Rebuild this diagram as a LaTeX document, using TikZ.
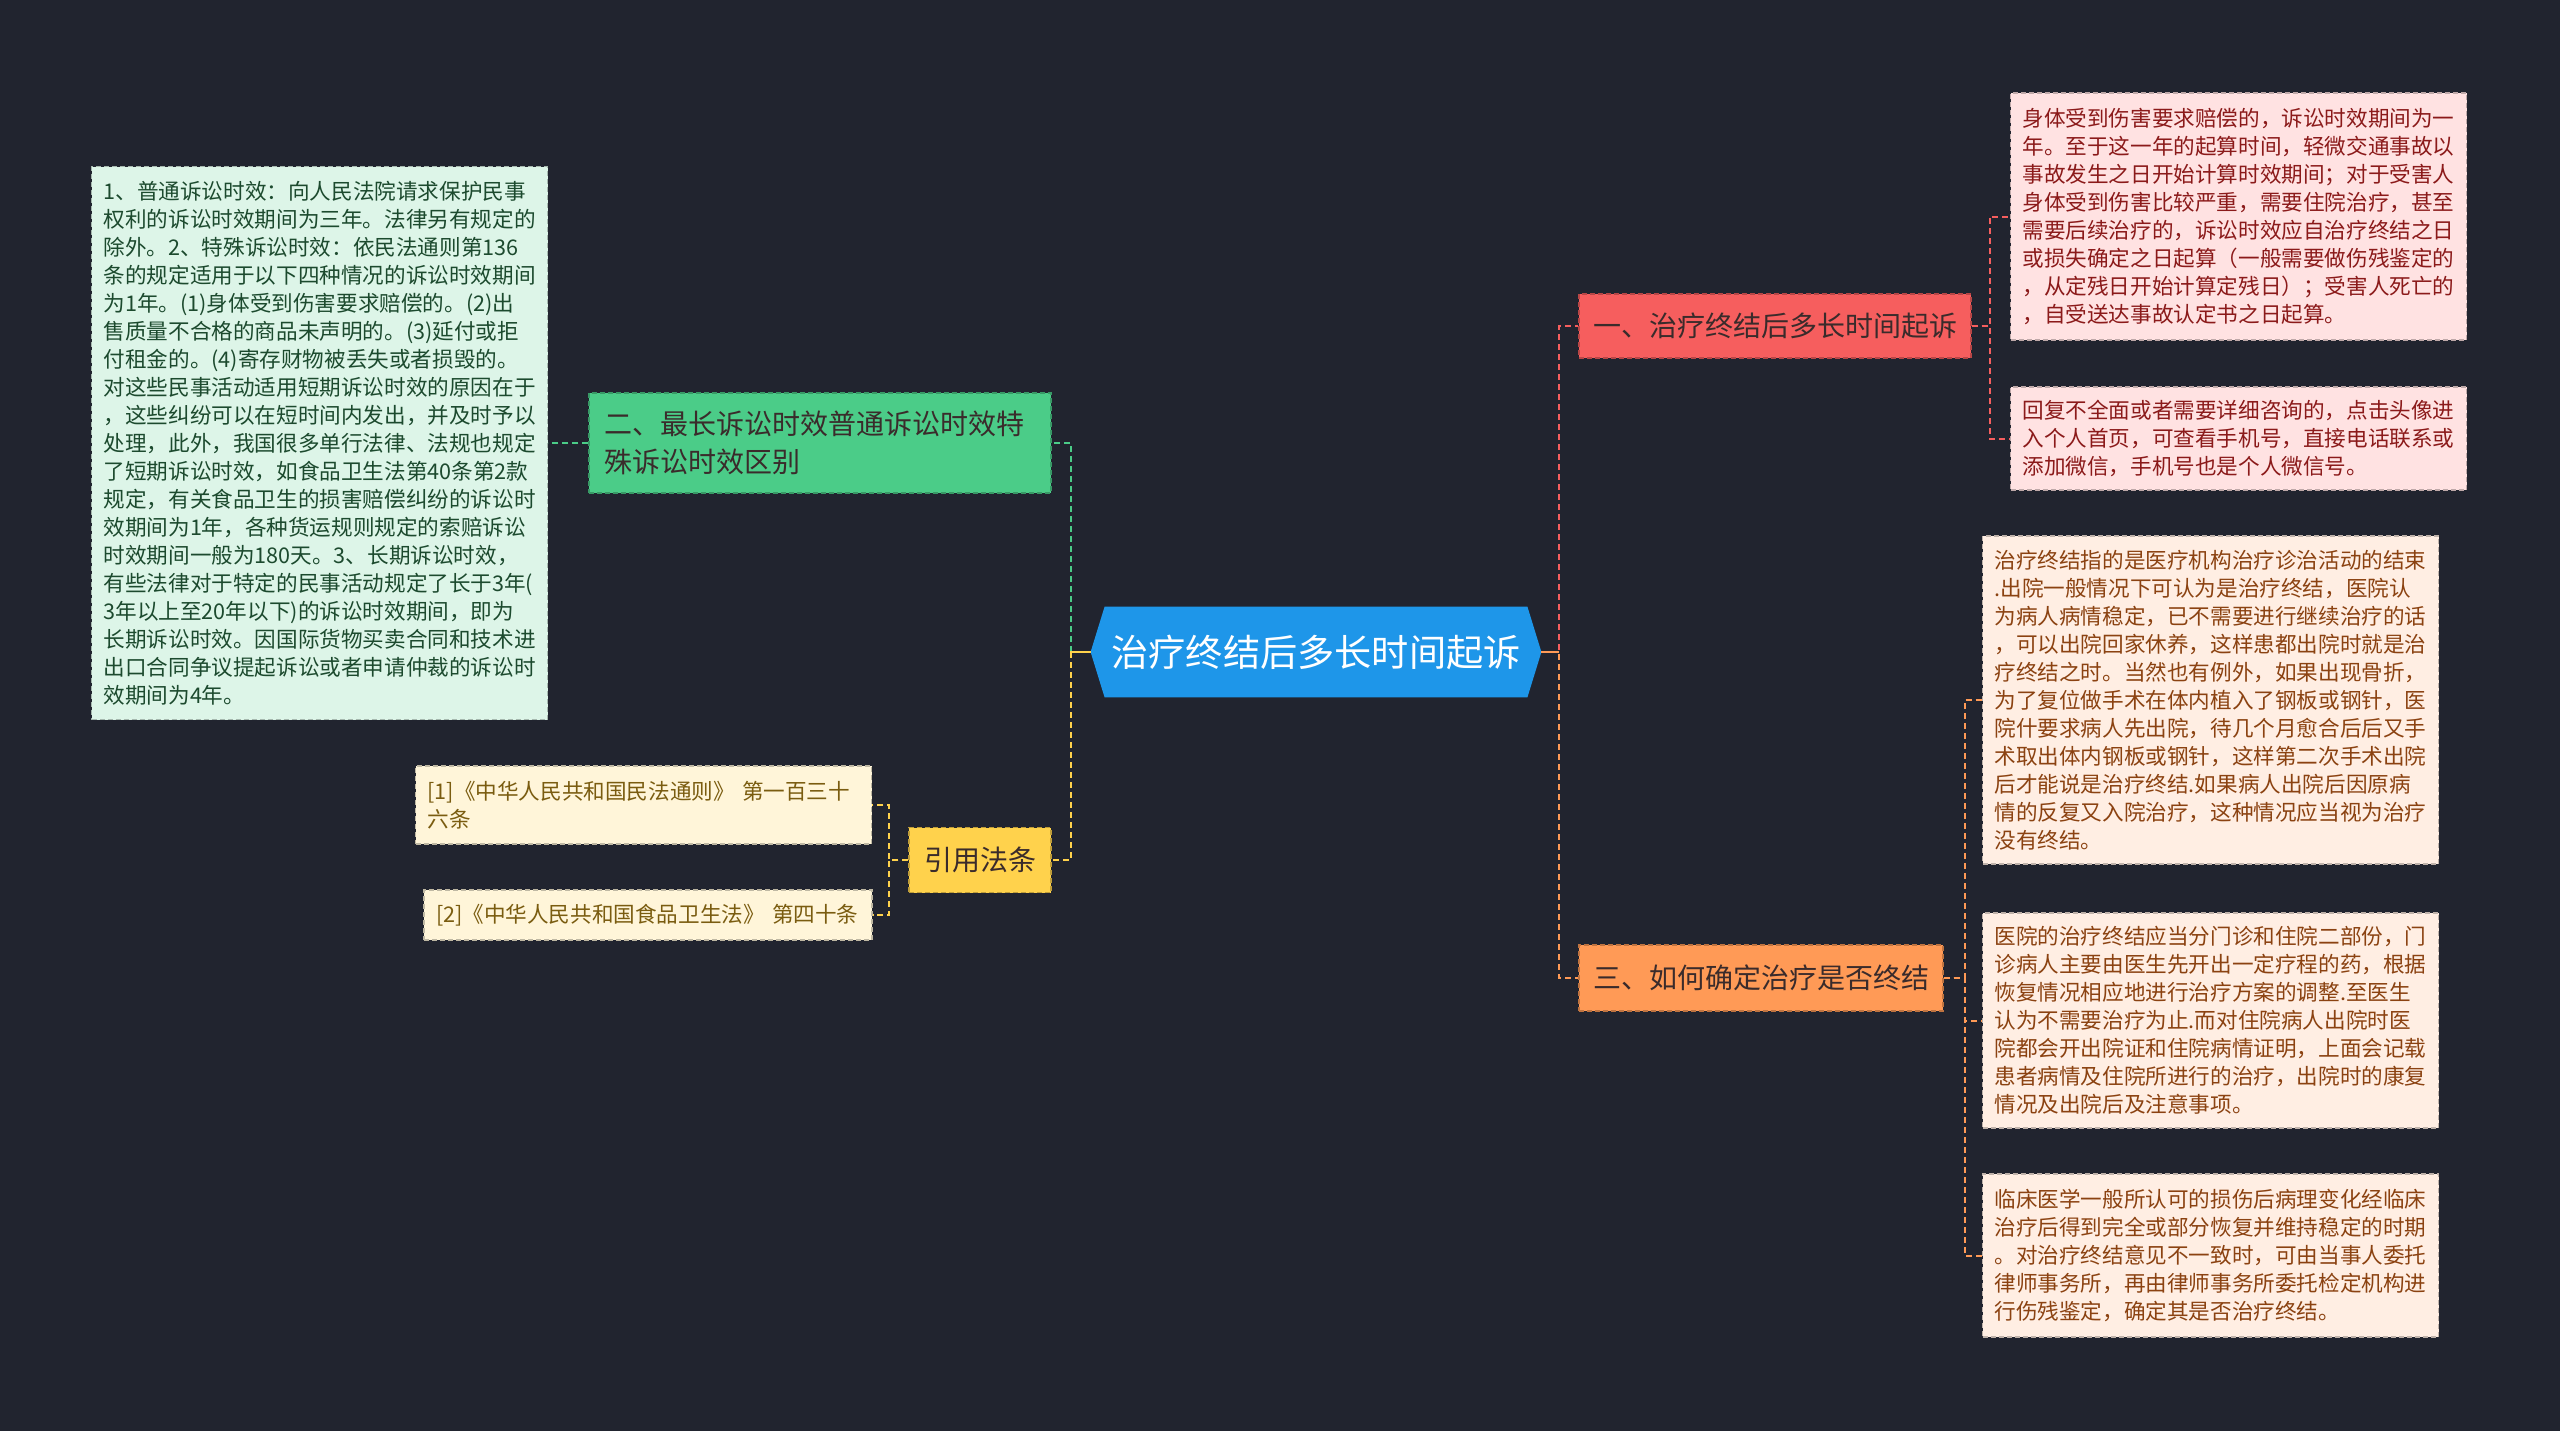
\documentclass[tikz,border=0pt]{standalone}
\usepackage{fontspec}
\setmainfont{Noto Sans CJK SC}
\usepackage{xcolor}
\usetikzlibrary{positioning, backgrounds, calc}

\definecolor{bgdark}{HTML}{21242F}
\definecolor{hubblue}{HTML}{1E96E9}
\definecolor{redbranch}{HTML}{F65E5E}
\definecolor{greenbranch}{HTML}{4BCC88}
\definecolor{yellowbranch}{HTML}{FFD24C}
\definecolor{orangebranch}{HTML}{FF9A56}
\definecolor{darktext}{HTML}{3A2B2B}
\definecolor{mintfill}{HTML}{DDF5E8}
\definecolor{minttext}{HTML}{1C4A2E}
\definecolor{creamfill}{HTML}{FFF5D9}
\definecolor{creamtext}{HTML}{7A5C10}
\definecolor{pinkfill}{HTML}{FFE2E2}
\definecolor{pinktext}{HTML}{8B1A1A}
\definecolor{peachfill}{HTML}{FFEEE3}
\definecolor{peachtext}{HTML}{8B4211}

\begin{document}
\begin{tikzpicture}[x=0.5pt, y=-0.5pt, node distance=20pt]
    \tikzset{
        hub/.style={rectangle, minimum width=225pt, minimum height=45pt, inner sep=0pt, text=white, font=\fontsize{18.6}{22}\selectfont},
        branch/.style={rectangle, fill=#1, draw=#1!75!black, dash pattern=on 2.5pt off 1.5pt, line width=0.7pt, text=darktext, inner sep=0pt, font=\fontsize{14}{19}\selectfont},
        note/.style 2 args={rectangle, fill=#1, draw=#1!75!black, dash pattern=on 2.5pt off 1.5pt, line width=0.7pt, text=#2, inner xsep=6pt, inner ysep=0pt, align=left, font=\fontsize{10.8}{14}\selectfont},
        link/.style={draw=#1, line width=1pt, dash pattern=on 3pt off 2pt},
        stub/.style={draw=#1, line width=1.2pt}
    }
    \useasboundingbox (0,0) rectangle (2560,1431);

    \node (Center) [hub] at (1316,652) {治疗终结后多长时间起诉};

    \node (Branch1) [branch=redbranch, minimum width=196pt, minimum height=32pt] at (1775,326) {一、治疗终结后多长时间起诉};
    \node (Branch3) [branch=orangebranch, minimum width=182pt, minimum height=33pt] at (1761,978) {三、如何确定治疗是否终结};
    \node (Green) [branch=greenbranch, minimum width=231pt, minimum height=50pt, text width=216pt, align=left] at (820,443) {二、最长诉讼时效普通诉讼时效特\\殊诉讼时效区别};
    \node (Cite) [branch=yellowbranch, minimum width=71pt, minimum height=32.5pt] at (980,860) {引用法条};

    \node (LeftBox) [note={mintfill}{minttext}, text width=216pt, minimum height=276.5pt, left=20pt of Green] {1、普通诉讼时效：向人民法院请求保护民事\\权利的诉讼时效期间为三年。法律另有规定的\\除外。2、特殊诉讼时效：依民法通则第136\\条的规定适用于以下四种情况的诉讼时效期间\\为1年。(1)身体受到伤害要求赔偿的。(2)出\\售质量不合格的商品未声明的。(3)延付或拒\\付租金的。(4)寄存财物被丢失或者损毁的。\\对这些民事活动适用短期诉讼时效的原因在于\\，这些纠纷可以在短时间内发出，并及时予以\\处理，此外，我国很多单行法律、法规也规定\\了短期诉讼时效，如食品卫生法第40条第2款\\规定，有关食品卫生的损害赔偿纠纷的诉讼时\\效期间为1年，各种货运规则规定的索赔诉讼\\时效期间一般为180天。3、长期诉讼时效，\\有些法律对于特定的民事活动规定了长于3年(\\3年以上至20年以下)的诉讼时效期间，即为\\长期诉讼时效。因国际货物买卖合同和技术进\\出口合同争议提起诉讼或者申请仲裁的诉讼时\\效期间为4年。};

    \node (Ref1) [note={creamfill}{creamtext}, text width=216pt, minimum height=39pt] at (643.5,805) {[1]《中华人民共和国民法通则》 第一百三十\\六条};
    \node (Ref2) [note={creamfill}{creamtext}, text width=212pt, minimum height=25pt] at (648,915) {[2]《中华人民共和国食品卫生法》 第四十条};

    \node (Pink1) [note={pinkfill}{pinktext}, text width=216pt, minimum height=123.5pt] at (2238.5,216.5) {身体受到伤害要求赔偿的，诉讼时效期间为一\\年。至于这一年的起算时间，轻微交通事故以\\事故发生之日开始计算时效期间；对于受害人\\身体受到伤害比较严重，需要住院治疗，甚至\\需要后续治疗的，诉讼时效应自治疗终结之日\\或损失确定之日起算（一般需要做伤残鉴定的\\，从定残日开始计算定残日）；受害人死亡的\\，自受送达事故认定书之日起算。};
    \node (Pink2) [note={pinkfill}{pinktext}, text width=216pt, minimum height=51.5pt] at (2238.5,438.5) {回复不全面或者需要详细咨询的，点击头像进\\入个人首页，可查看手机号，直接电话联系或\\添加微信，手机号也是个人微信号。};

    \node (Peach3) [note={peachfill}{peachtext}, text width=216pt, minimum height=164pt] at (2210.5,700) {治疗终结指的是医疗机构治疗诊治活动的结束\\.出院一般情况下可认为是治疗终结，医院认\\为病人病情稳定，已不需要进行继续治疗的话\\，可以出院回家休养，这样患都出院时就是治\\疗终结之时。当然也有例外，如果出现骨折，\\为了复位做手术在体内植入了钢板或钢针，医\\院什要求病人先出院，待几个月愈合后后又手\\术取出体内钢板或钢针，这样第二次手术出院\\后才能说是治疗终结.如果病人出院后因原病\\情的反复又入院治疗，这种情况应当视为治疗\\没有终结。};
    \node (Peach4) [note={peachfill}{peachtext}, text width=216pt, minimum height=107.5pt] at (2210.5,1020.5) {医院的治疗终结应当分门诊和住院二部份，门\\诊病人主要由医生先开出一定疗程的药，根据\\恢复情况相应地进行治疗方案的调整.至医生\\认为不需要治疗为止.而对住院病人出院时医\\院都会开出院证和住院病情证明，上面会记载\\患者病情及住院所进行的治疗，出院时的康复\\情况及出院后及注意事项。};
    \node (Peach5) [note={peachfill}{peachtext}, text width=216pt, minimum height=81.5pt] at (2210.5,1255.5) {临床医学一般所认可的损伤后病理变化经临床\\治疗后得到完全或部分恢复并维持稳定的时期\\。对治疗终结意见不一致时，可由当事人委托\\律师事务所，再由律师事务所委托检定机构进\\行伤残鉴定，确定其是否治疗终结。};

    \begin{scope}[on background layer]
        \fill[bgdark] (0,0) rectangle (2560,1431);
        \fill[hubblue] ([xshift=7pt]Center.north west) -- ([xshift=-7pt]Center.north east) -- (Center.east)
            -- ([xshift=-7pt]Center.south east) -- ([xshift=7pt]Center.south west) -- (Center.west) -- cycle;
    \end{scope}

    \draw[link=greenbranch] (Center.west) -- ++(-20,0) |- (Green.east);
    \draw[link=yellowbranch] (Center.west) -- ++(-20,0) |- (Cite.east);
    \draw[stub=yellowbranch] (Center.west) -- ++(-20,0);
    \draw[link=redbranch] (Center.east) -- ++(18,0) |- (Branch1.west);
    \draw[link=orangebranch] (Center.east) -- ++(18,0) |- (Branch3.west);
    \draw[stub=orangebranch] (Center.east) -- ++(18,0);

    \draw[link=greenbranch] (Green.west) -- (LeftBox.east);
    \draw[link=yellowbranch] (Cite.west) -- ++(-19,0) |- (Ref1.east);
    \draw[link=yellowbranch] (Cite.west) -- ++(-19,0) |- (Ref2.east);
    \draw[link=redbranch] (Branch1.east) -- ++(18,0) |- (Pink1.west);
    \draw[link=redbranch] (Branch1.east) -- ++(18,0) |- (Pink2.west);
    \draw[link=orangebranch] (Branch3.east) -- ++(21,0) |- (Peach3.west);
    \draw[link=orangebranch] (Branch3.east) -- ++(21,0) |- (Peach4.west);
    \draw[link=orangebranch] (Branch3.east) -- ++(21,0) |- (Peach5.west);
\end{tikzpicture}
\end{document}
